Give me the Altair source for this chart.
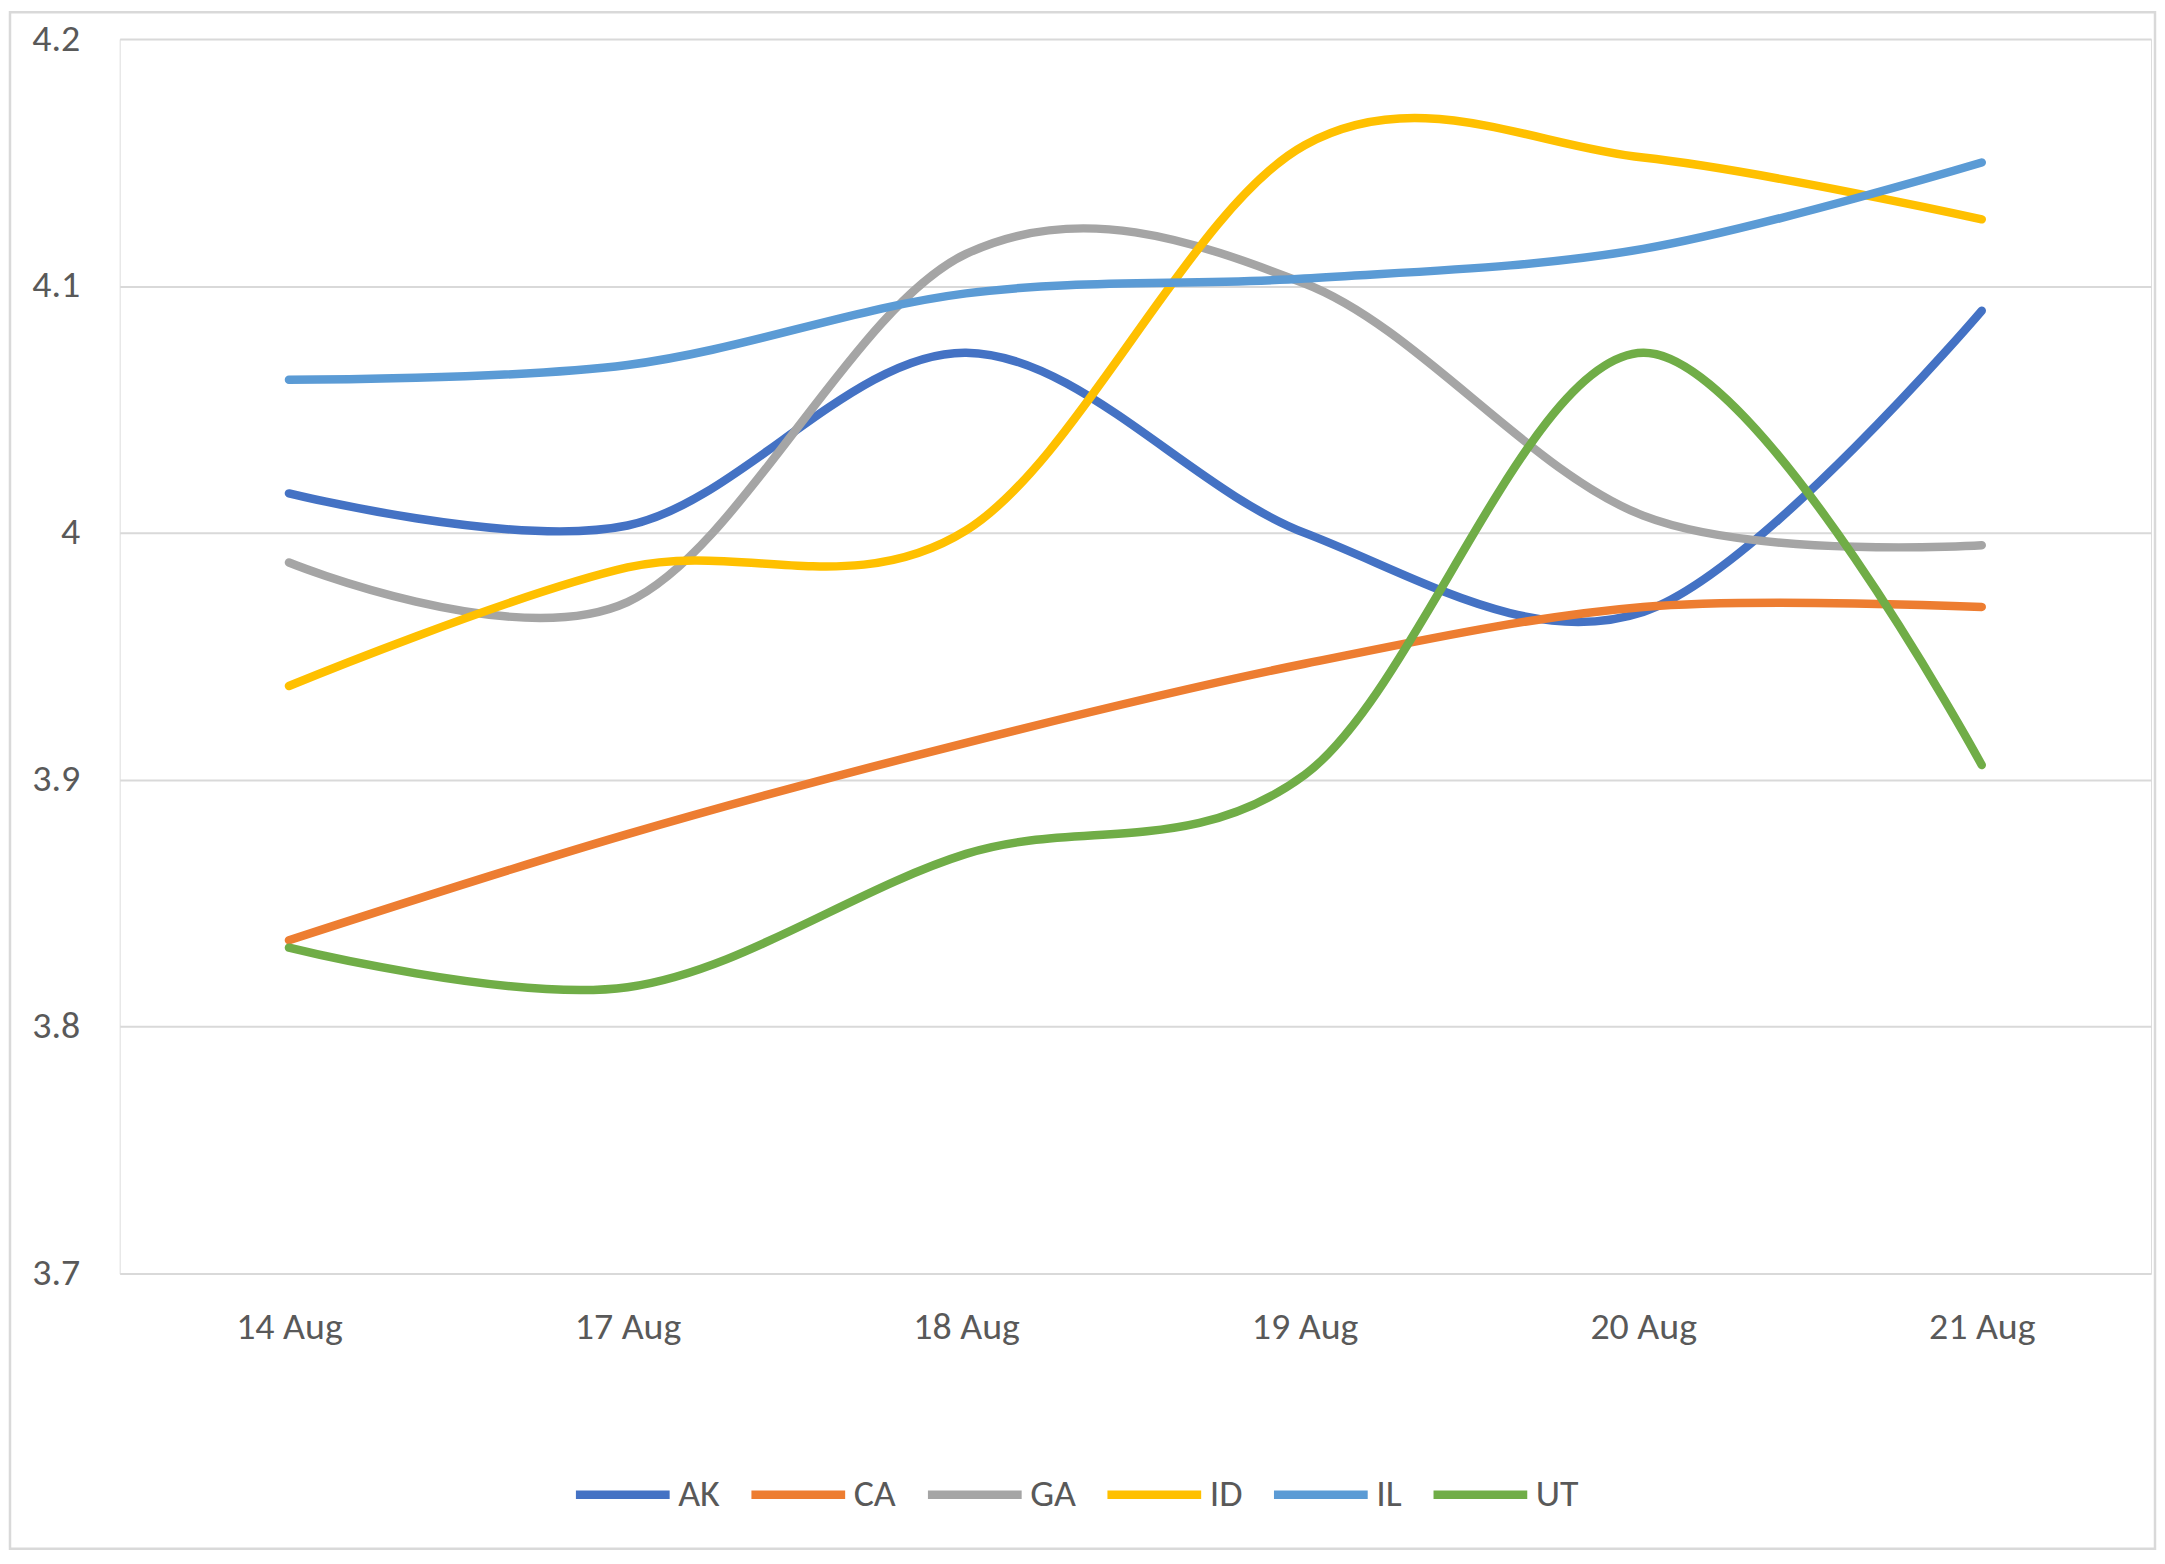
import altair as alt
import pandas as pd

dates = ["14 Aug", "17 Aug", "18 Aug", "19 Aug", "20 Aug", "21 Aug"]
series = ["AK", "CA", "GA", "ID", "IL", "UT"]
colors = ["#4472C4", "#ED7D31", "#A5A5A5", "#FFC000", "#5B9BD5", "#70AD47"]

AK = [4.016, 4.003, 4.073, 4.000, 3.968, 4.090]
CA = [3.835, 3.878, 3.915, 3.947, 3.970, 3.970]
GA = [3.988, 3.972, 4.113, 4.101, 4.007, 3.995]
ID = [3.938, 3.986, 4.001, 4.157, 4.152, 4.127]
IL = [4.062, 4.068, 4.097, 4.103, 4.115, 4.150]
UT = [3.832, 3.816, 3.870, 3.902, 4.073, 3.906]

y_ticks = [3.7, 3.8, 3.9, 4.0, 4.1, 4.2]

values = {"AK": AK, "CA": CA, "GA": GA, "ID": ID, "IL": IL, "UT": UT}
rows = []
for s in series:
    for i, d in enumerate(dates):
        rows.append({"date": d, "series": s, "value": values[s][i], "order": i})
df = pd.DataFrame(rows)

FONT = "Carlito, 'Liberation Sans Narrow', Roboto, sans-serif"
TXT = "#595959"
W, H = 2037, 1238
B = 278

lines = alt.Chart(df).mark_line(
    interpolate="cardinal", tension=0, strokeWidth=8.5, strokeCap="round", strokeJoin="round"
).encode(
    x=alt.X("date:N", sort=dates, title=None,
            scale=alt.Scale(type="point", padding=0.5),
            axis=alt.Axis(domain=False, ticks=False, grid=False, labelAngle=0,
                          labelFontSize=38, labelColor=TXT, labelFont=FONT,
                          labelBaseline="middle", labelPadding=54)),
    y=alt.Y("value:Q", title=None,
            scale=alt.Scale(domain=[3.7, 4.2], nice=False, zero=False),
            axis=alt.Axis(values=y_ticks, domain=False, ticks=False, grid=True,
                          gridColor="#d9d9d9", gridWidth=2,
                          labelFontSize=38, labelColor=TXT, labelFont=FONT,
                          labelPadding=40, labelExpr="datum.value == 4 ? '4' : format(datum.value, '.1f')")),
    color=alt.Color("series:N", sort=series, title=None,
                    scale=alt.Scale(domain=series, range=colors),
                    legend=alt.Legend(orient="none", legendX=453, legendY=1408,
                                      direction="horizontal", columns=6,
                                      symbolType="stroke", symbolSize=8836,
                                      symbolStrokeWidth=8.5, labelFontSize=38,
                                      labelColor=TXT, labelFont=FONT,
                                      labelOffset=4, columnPadding=14, padding=0)),
    order="order:O",
    detail="series:N",
)

border = alt.Chart(pd.DataFrame({"b": [0]})).mark_rect(
    fill=None, stroke="#d9d9d9", strokeWidth=2.5
).encode(
    x=alt.value(-110), x2=alt.value(W + 4),
    y=alt.value(-27), y2=alt.value(H + B - 2),
)

chart = alt.layer(lines, border).properties(
    width=W, height=H,
    autosize=alt.AutoSizeParams(type="none"),
    padding={"left": 112, "top": 29, "right": 6, "bottom": B},
).configure_view(strokeWidth=0).configure(background="white")

chart.save("out.html", embed_options={"renderer": "svg", "actions": False})
